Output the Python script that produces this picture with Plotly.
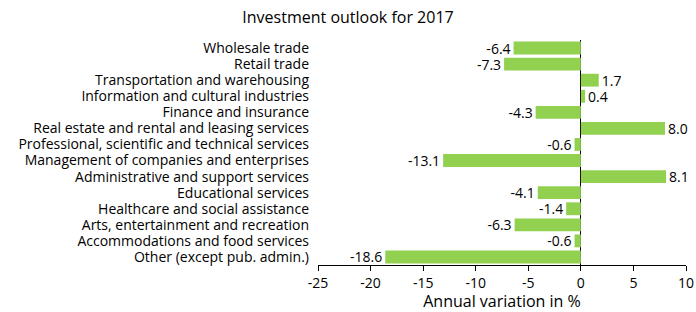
import plotly.graph_objects as go

categories = [
    "Wholesale trade",
    "Retail trade",
    "Transportation and warehousing",
    "Information and cultural industries",
    "Finance and insurance",
    "Real estate and rental and leasing services",
    "Professional, scientific and technical services",
    "Management of companies and enterprises",
    "Administrative and support services",
    "Educational services",
    "Healthcare and social assistance",
    "Arts, entertainment and recreation",
    "Accommodations and food services",
    "Other (except pub. admin.)",
]
values = [-6.4, -7.3, 1.7, 0.4, -4.3, 8.0, -0.6, -13.1, 8.1, -4.1, -1.4, -6.3, -0.6, -18.6]
x_ticks = [-25, -20, -15, -10, -5, 0, 5, 10]

FONT = "Open Sans, Noto Sans, sans-serif"

fig = go.Figure(go.Bar(
    y=categories,
    x=values,
    orientation="h",
    marker=dict(color="#92D050", line=dict(width=0)),
    width=0.8,
    text=[f"{v:.1f}" for v in values],
    textposition="outside",
    constraintext="none",
    cliponaxis=False,
    textfont=dict(size=14, color="black", family=FONT),
    hoverinfo="skip",
))

fig.update_layout(
    width=696, height=312,
    margin=dict(l=318, r=10, t=40, b=47),
    paper_bgcolor="white", plot_bgcolor="white",
    font=dict(family=FONT, color="black", size=14),
    title=dict(text="Investment outlook for 2017", x=0.5, xanchor="center",
               y=0.945, yanchor="middle", font=dict(size=16, color="black", family=FONT)),
    showlegend=False,
)
fig.update_xaxes(
    range=[-25, 10], tickvals=x_ticks, ticktext=[str(t) for t in x_ticks],
    showgrid=False, zeroline=True, zerolinecolor="black", zerolinewidth=1,
    showline=True, linecolor="black", linewidth=1,
    ticks="outside", ticklen=5, tickcolor="black", automargin=False,
    tickfont=dict(size=14), title=dict(text="Annual variation in %", font=dict(size=16), standoff=3),
)
fig.update_yaxes(
    autorange="reversed", showgrid=False, showline=False, ticks="",
    tickmode="array", tickvals=categories, ticktext=categories,
    automargin=False, ticklabelstandoff=8,
    tickfont=dict(size=14),
)

fig.write_html(
    "out.html",
    config={"displayModeBar": False, "staticPlot": True},
    post_script="document.body.style.margin='0';document.body.style.overflow='hidden';",
)
